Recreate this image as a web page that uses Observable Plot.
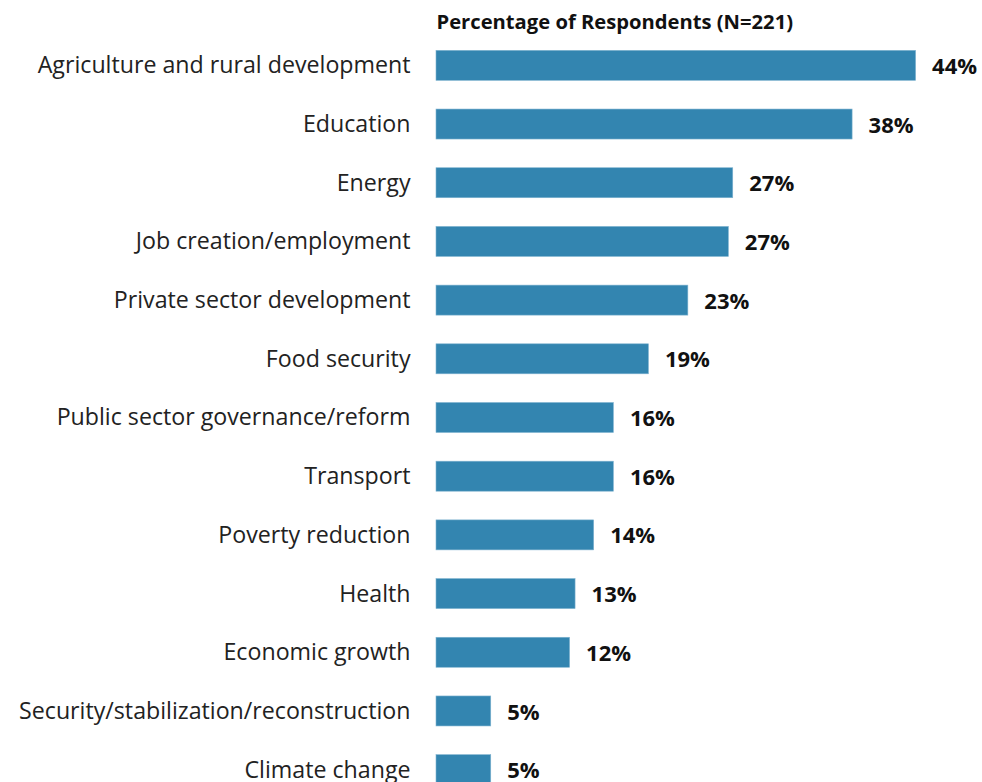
<!DOCTYPE html>
<html>
<head>
<meta charset="utf-8">
<script src="https://cdn.jsdelivr.net/npm/d3@7"></script>
<script src="https://cdn.jsdelivr.net/npm/@observablehq/plot@0.6"></script>
<style>
  html, body { margin: 0; padding: 0; background: #fff; overflow: hidden; }
  #chart svg { display: block; }
</style>
</head>
<body>
<div id="chart"></div>
<script>
const categories = [
  "Agriculture and rural development",
  "Education",
  "Energy",
  "Job creation/employment",
  "Private sector development",
  "Food security",
  "Public sector governance/reform",
  "Transport",
  "Poverty reduction",
  "Health",
  "Economic growth",
  "Security/stabilization/reconstruction",
  "Climate change"
];
const values = [43.8, 38.0, 27.1, 26.7, 23.0, 19.4, 16.2, 16.2, 14.4, 12.7, 12.2, 5.0, 5.0];
const labels = ["44%", "38%", "27%", "27%", "23%", "19%", "16%", "16%", "14%", "13%", "12%", "5%", "5%"];
const title = "Percentage of Respondents (N=221)";

const data = categories.map((c, i) => ({category: c, value: values[i], label: labels[i]}));

const chart = Plot.plot({
  width: 982,
  height: 799,
  marginLeft: 436,
  marginRight: 20.4,
  marginTop: 36,
  marginBottom: 0,
  style: {fontFamily: "'Open Sans', Lato, sans-serif", background: "#fff"},
  x: {domain: [0, 48], axis: null},
  y: {domain: categories, paddingInner: 0.489, paddingOuter: 0.2445, round: false, label: null},
  marks: [
    Plot.barX(data, {y: "category", x: "value", fill: "#3385B0", stroke: "#7fb3d0", strokeWidth: 0.6}),
    Plot.text(data, {y: "category", x: "value", text: "label", textAnchor: "start", dx: 16, dy: 1,
      fontSize: 22, fontWeight: "bold", fill: "#111"}),
    Plot.axisY({tickSize: 0, tickPadding: 26, fontSize: 23.2, label: null, color: "#222"}),
    Plot.text([title], {frameAnchor: "top-left", dy: -22, fontSize: 20.2, fontWeight: "bold", fill: "#111", textAnchor: "start"})
  ]
});
document.getElementById("chart").appendChild(chart);
</script>
</body>
</html>
